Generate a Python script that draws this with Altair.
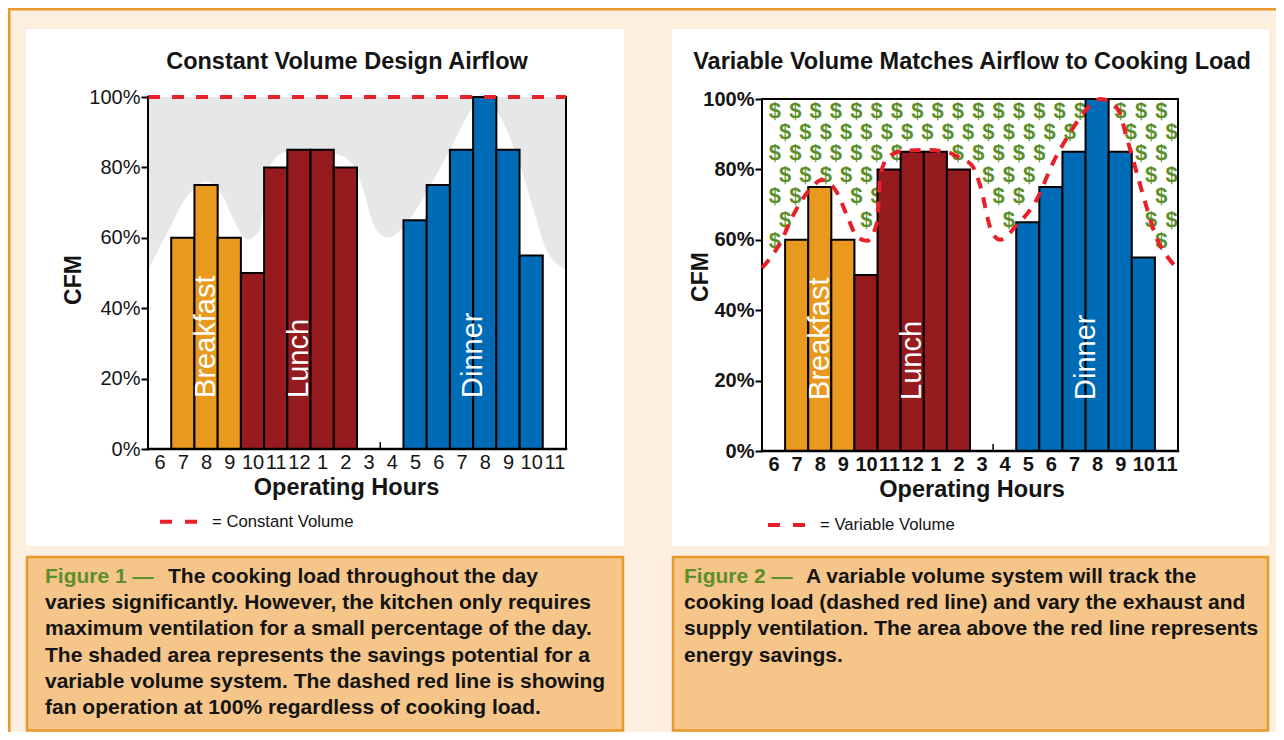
import json
import numpy as np
import pandas as pd
import altair as alt

# ---------------- data ----------------
HOURS = ["6", "7", "8", "9", "10", "11", "12", "1", "2", "3", "4",
         "5", "6", "7", "8", "9", "10", "11"]
LOAD = [0, 60, 75, 60, 50, 80, 85, 85, 80, 0, 0, 65, 75, 85, 100, 85, 55, 0]
MEAL = ["", "Breakfast", "Breakfast", "Breakfast", "Lunch", "Lunch", "Lunch",
        "Lunch", "Lunch", "", "", "Dinner", "Dinner", "Dinner", "Dinner",
        "Dinner", "Dinner", ""]
MEAL_NAMES = ["Breakfast", "Lunch", "Dinner"]
MEAL_COLORS = ["#E99A1E", "#961B1F", "#006BB6"]
MEAL_LABEL_X = [2.5, 6.5, 14.0]
MEAL_LABEL_Y = [14.5, 14.5, 14.5]
Y_TICKS = [0, 20, 40, 60, 80, 100]
CONSTANT_VOLUME = 100

# grey "savings" boundary in figure 1 (hour index, % CFM)
GREY_X = [0, 0.8, 1.6, 2.5, 3.2, 3.7, 4.25, 4.8, 5.0, 5.3, 6.0, 7.0, 8.0, 8.8,
          9.3, 9.7, 10.3, 11.0, 12.0, 13.0, 14.0, 14.5, 15.2, 16.0, 16.6, 17.2, 18.0]
GREY_Y = [51, 61, 71, 76, 72, 65, 59.5, 62, 70, 81, 84.5, 85, 84, 81,
          73, 64, 60, 63, 73, 85, 97, 100, 94, 81, 68, 56, 51]

# variable volume curve in figure 2
VAR_X = [0, 0.78, 1.35, 2.08, 2.6, 3.24, 3.67, 4.1, 4.54, 4.98, 5.12, 5.4, 6.1,
         7.1, 7.97, 8.5, 9.1, 9.46, 9.9, 10.3, 11.0, 11.9, 12.6, 13.35, 13.9,
         14.65, 15.4, 15.8, 16.25, 16.7, 17.1, 17.4, 18.0]
VAR_Y = [52, 59, 67, 74.4, 77, 73.5, 67, 61, 59.7, 65, 78, 83, 85.3,
         85.5, 85, 83.5, 81, 75, 63, 60, 64, 71.6, 82, 90.6, 96,
         100, 97, 88.6, 78.2, 68, 60, 56.5, 51.7]

# "$" texture rows (% CFM) and row start positions (hour index)
DOLLAR_ROWS = [96.6, 90.6, 84.6, 78.4, 72.4, 65.6, 59.6]
DOLLAR_START = [0.56, 1.0]
DOLLAR_STEP = 0.88

CAPTION1 = ["The cooking load throughout the day",
            "varies significantly. However, the kitchen only requires",
            "maximum ventilation for a small percentage of the day.",
            "The shaded area represents the savings potential for a",
            "variable volume system. The dashed red line is showing",
            "fan operation at 100% regardless of cooking load."]
CAPTION2 = ["A variable volume system will track the",
            "cooking load (dashed red line) and vary the exhaust and",
            "supply ventilation. The area above the red line represents",
            "energy savings."]

# ---------------- style / layout ----------------
FONT = "Liberation Sans"
CREAM = "#FCEFE0"
ORANGE = "#E9982B"
CAPFILL = "#F5C589"
GREEN_TXT = "#5A8F2C"
DOLLAR_C = "#5B8F2A"
RED = "#E8202A"
GREY = "#E6E7E8"
INK = "#141414"
CW, CH = 1268, 724          # whole canvas

label_expr = json.dumps(HOURS) + "[floor(datum.value)]"
dummy = pd.DataFrame({"k": [0]})


def prect(x, x2, y, y2, **kw):
    return alt.Chart(dummy).mark_rect(**kw).encode(
        x=alt.value(x), x2=alt.value(x2), y=alt.value(y), y2=alt.value(y2))


def ptext(txt, x, y, **kw):
    kw.setdefault("font", FONT)
    return alt.Chart(pd.DataFrame({"t": [txt]})).mark_text(**kw).encode(
        x=alt.value(x), y=alt.value(y), text="t:N")


bars_df = pd.DataFrame({"x0": np.arange(18), "x1": np.arange(18) + 1,
                        "load": LOAD, "meal": MEAL})
bars_df = bars_df[bars_df["load"] > 0]
meal_df = pd.DataFrame({"x": MEAL_LABEL_X, "y": MEAL_LABEL_Y, "t": MEAL_NAMES})


def group(side):
    # plot rectangle inside the canvas (left, top, width, height)
    if side == 1:
        px, py, pw, ph = 140, 89, 418, 352
    else:
        px, py, pw, ph = 754, 91, 416, 352
    kx, ky = pw / 18.0, ph / 100.0
    xd0 = -px / kx
    yd0 = -(CH - (py + ph)) / ky
    xs = alt.Scale(domain=[xd0, xd0 + CW / kx], nice=False, zero=False)
    ys = alt.Scale(domain=[yd0, yd0 + CH / ky], nice=False, zero=False)
    lw = "normal" if side == 1 else "bold"
    xaxis = alt.Axis(orient="bottom", offset=(py + ph) - CH,
                     values=[i + 0.5 for i in range(18)], labelExpr=label_expr,
                     ticks=False, tickSize=0, domain=False,
                     labelFont=FONT, labelFontSize=20, labelFontWeight=lw,
                     labelColor=INK, labelPadding=13, labelBaseline="middle",
                     labelOverlap=False, labelFlush=False, labelBound=False,
                     grid=False, title=None, zindex=1)
    yaxis = alt.Axis(orient="left", offset=-px, values=Y_TICKS,
                     labelExpr="datum.value + '%'", tickSize=7, tickWidth=2,
                     tickColor="black", domain=False, labelFont=FONT,
                     labelFontSize=20, labelFontWeight=lw, labelColor=INK,
                     labelPadding=1, labelBaseline="middle", labelOverlap=False,
                     labelFlush=False, labelBound=False,
                     grid=False, title=None, zindex=1)
    X = lambda f: alt.X(f, scale=xs, axis=xaxis)
    Y = lambda f: alt.Y(f, scale=ys, axis=yaxis)

    layers = []
    if side == 1:
        gdf = pd.DataFrame({"x": GREY_X, "y": GREY_Y})
        layers.append(alt.Chart(gdf).mark_area(interpolate="monotone", color=GREY)
                      .encode(x=X("x:Q"), y=Y("y:Q"), y2=alt.datum(CONSTANT_VOLUME)))
    else:
        pts = []
        for r, yv in enumerate(DOLLAR_ROWS):
            xv = DOLLAR_START[r % 2]
            while xv < 17.75:
                if yv > np.interp(xv, VAR_X, VAR_Y):
                    pts.append({"x": xv, "y": yv})
                xv += DOLLAR_STEP
        ddf = pd.DataFrame(pts)
        layers.append(alt.Chart(ddf).mark_text(text="$", font=FONT, fontSize=22,
                                               fontWeight="bold", color=DOLLAR_C,
                                               baseline="middle")
                      .encode(x=X("x:Q"), y=Y("y:Q")))

    layers.append(alt.Chart(bars_df).mark_rect(stroke="black", strokeWidth=2).encode(
        x=X("x0:Q"), x2="x1:Q", y=Y("load:Q"), y2=alt.datum(0),
        color=alt.Color("meal:N", scale=alt.Scale(domain=MEAL_NAMES, range=MEAL_COLORS),
                        legend=None)))
    layers.append(alt.Chart(meal_df).mark_text(angle=270, align="left", baseline="middle",
                                               font=FONT, fontSize=29, color="white")
                  .encode(x=X("x:Q"), y=Y("y:Q"), text="t:N"))

    # plot frame (axis lines) and the lone tick between 3 and 4
    if side == 1:
        fr = pd.DataFrame({"x": [0, 0, 18], "x2": [18, 0, 18],
                           "y": [0, 0, 0], "y2": [0, 100, 100],
                           "w": [2.5, 2, 2]})
    else:
        fr = pd.DataFrame({"x": [0, 0, 18, 0], "x2": [18, 0, 18, 18],
                           "y": [0, 0, 0, 100], "y2": [0, 100, 100, 100],
                           "w": [2.5, 2, 2, 2]})
    layers.append(alt.Chart(fr).mark_rule(color="black", strokeCap="square").encode(
        x=X("x:Q"), x2="x2:Q", y=Y("y:Q"), y2="y2:Q",
        strokeWidth=alt.StrokeWidth("w:Q", scale=None)))
    tk = pd.DataFrame({"x": [10], "y": [0], "y2": [2]})
    layers.append(alt.Chart(tk).mark_rule(color="black", strokeWidth=1.5).encode(
        x=X("x:Q"), y=Y("y:Q"), y2="y2:Q"))

    if side == 1:
        cdf = pd.DataFrame({"x": [0], "x2": [18], "y": [CONSTANT_VOLUME]})
        layers.append(alt.Chart(cdf).mark_rule(color=RED, strokeWidth=4,
                                               strokeDash=[12, 12]).encode(
            x=X("x:Q"), x2="x2:Q", y=Y("y:Q")))
    else:
        vdf = pd.DataFrame({"x": VAR_X, "y": VAR_Y})
        layers.append(alt.Chart(vdf).mark_line(interpolate="monotone", color=RED,
                                               strokeWidth=4, strokeDash=[11, 9])
                      .encode(x=X("x:Q"), y=Y("y:Q")))
    return alt.layer(*layers)


# ---------------- decoration (canvas pixels) ----------------
bg = [prect(0, 2.5, 0, CH, color=ORANGE),
      prect(0, CW, 0, 2.5, color=ORANGE),
      prect(18, 616, 21, 538, color="white"),
      prect(664, 1261, 21, 538, color="white"),
      prect(19, 615, 549, 722.5, fill=CAPFILL, stroke=ORANGE, strokeWidth=2.5),
      prect(665, 1260, 549, 722.5, fill=CAPFILL, stroke=ORANGE, strokeWidth=2.5)]

txt = []
txt.append(ptext("Constant Volume Design Airflow", 339, 54, fontSize=23.5,
                 fontWeight="bold", color=INK, align="center", baseline="middle"))
txt.append(ptext("Variable Volume Matches Airflow to Cooking Load", 964, 54,
                 fontSize=23.5, fontWeight="bold", color=INK, align="center",
                 baseline="middle"))
for (cx, cy) in [(66, 272), (693, 269)]:
    txt.append(ptext("CFM", cx, cy, fontSize=23, fontWeight="bold", color=INK,
                     angle=270, align="center", baseline="middle"))
for (cx, cy) in [(338.5, 480), (964, 482)]:
    txt.append(ptext("Operating Hours", cx, cy, fontSize=23.5, fontWeight="bold",
                     color=INK, align="center", baseline="middle"))
for (x1, x2, y, tx, t) in [(152, 189, 513.7, 204, "= Constant Volume"),
                           (760, 797, 517, 812, "= Variable Volume")]:
    txt.append(alt.Chart(dummy).mark_rule(color=RED, strokeWidth=4,
                                          strokeDash=[12, 13]).encode(
        x=alt.value(x1), x2=alt.value(x2), y=alt.value(y)))
    txt.append(ptext(t, tx, y, fontSize=16.7, color=INK, align="left",
                     baseline="middle"))
for (gx, rx, fig, lines) in [(37, 160, "Figure 1 \u2014", CAPTION1),
                             (676, 798, "Figure 2 \u2014", CAPTION2)]:
    y0 = 568.7
    txt.append(ptext(fig, gx, y0, fontSize=21, fontWeight="bold", color=GREEN_TXT,
                     align="left", baseline="middle"))
    for i, ln in enumerate(lines):
        txt.append(ptext(ln, rx if i == 0 else gx, y0 + 26.3 * i, fontSize=21,
                         fontWeight="bold", color=INK, align="left",
                         baseline="middle"))

chart = alt.layer(*bg, group(1), group(2), *txt).resolve_scale(
    x="independent", y="independent"
).properties(
    width=CW, height=CH, padding=0, background=CREAM,
    autosize=alt.AutoSizeParams(type="none")
).configure_view(stroke=None).configure(font=FONT)

chart.save("out.html", embed_options={"renderer": "svg", "actions": False})
